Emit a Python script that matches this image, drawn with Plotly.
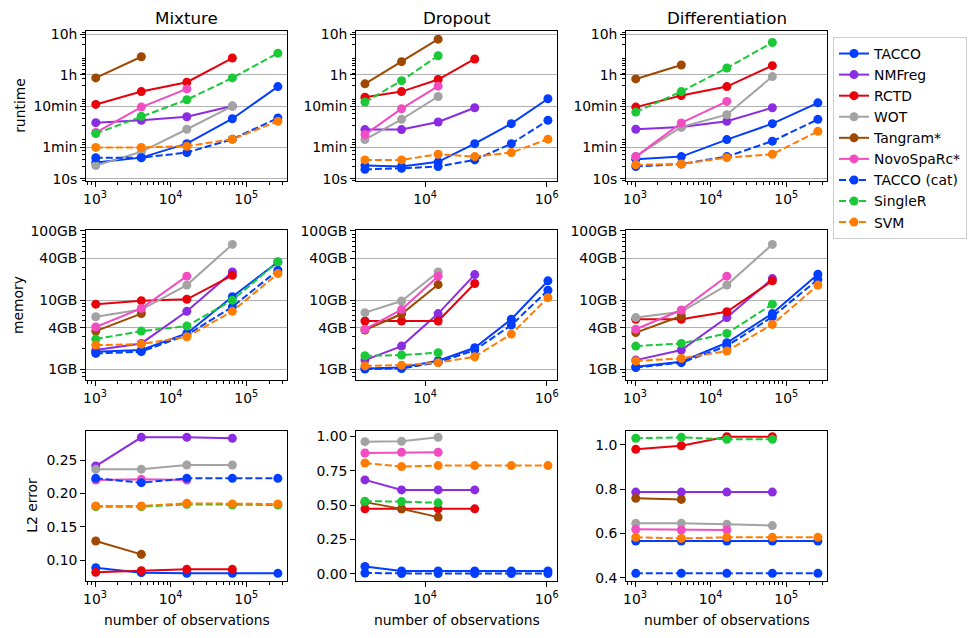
import plotly.graph_objects as go

# ---------------- data ----------------
N_SMALL = [1024, 4096, 16384, 65536, 262144]
N_DROP = [1024, 4096, 16384, 65536, 262144, 1048576]

METHODS = ["TACCO", "NMFreg", "RCTD", "WOT", "Tangram*", "NovoSpaRc*",
           "TACCO (cat)", "SingleR", "SVM"]
COLORS = ["#023eff", "#8b2be2", "#e8000b", "#a3a3a3", "#9f4800", "#f14cc1",
          "#023eff", "#1ac938", "#ff7c00"]
DASHED = ["TACCO (cat)", "SingleR", "SVM"]

DATASETS = ["Mixture", "Dropout", "Differentiation"]

# runtime in seconds
runtime_mixture = {
    "TACCO": [25, 33, 73, 300, 1860],
    "NMFreg": [240, 275, 335, 615],
    "RCTD": [675, 1400, 2380, 9400],
    "WOT": [21, 46, 165, 615],
    "Tangram*": [3040, 10100],
    "NovoSpaRc*": [137, 580, 1630],
    "TACCO (cat)": [33, 33, 44, 94, 312],
    "SingleR": [129, 343, 880, 3040, 12400],
    "SVM": [59, 59, 63, 94, 259],
}
runtime_dropout = {
    "TACCO": [21, 20, 26, 73, 227, 930],
    "NMFreg": [162, 162, 249, 560],
    "RCTD": [1020, 1400, 2770, 8900],
    "WOT": [92, 290, 1060],
    "Tangram*": [2170, 7640, 27400],
    "NovoSpaRc*": [122, 530, 1900],
    "TACCO (cat)": [17, 18, 20, 29, 73, 274],
    "SingleR": [770, 2600, 10700],
    "SVM": [29, 29, 40, 35, 44, 94],
}
runtime_differentiation = {
    "TACCO": [30, 35, 92, 227, 740],
    "NMFreg": [165, 188, 259, 560],
    "RCTD": [580, 1120, 1860, 6100],
    "WOT": [35, 188, 377, 3280],
    "Tangram*": [2870, 6320],
    "NovoSpaRc*": [35, 236, 800],
    "TACCO (cat)": [20, 23, 35, 84, 290],
    "SingleR": [438, 1400, 5340, 22700],
    "SVM": [22, 23, 33, 40, 147],
}

# memory in GB
memory_mixture = {
    "TACCO": [1.80, 1.90, 3.3, 11.2, 35.7],
    "NMFreg": [1.90, 2.37, 6.9, 25.6],
    "RCTD": [8.75, 9.8, 10.3, 22.9],
    "WOT": [5.75, 7.3, 16.5, 64],
    "Tangram*": [3.57, 6.4],
    "NovoSpaRc*": [4.1, 7.6, 22.2],
    "TACCO (cat)": [1.70, 1.80, 3.13, 8.0, 27.1],
    "SingleR": [2.74, 3.57, 4.22, 10.0, 35.7],
    "SVM": [2.24, 2.32, 2.96, 6.9, 24.2],
}
memory_dropout = {
    "TACCO": [1.03, 1.06, 1.33, 2.05, 5.3, 19.0],
    "NMFreg": [1.36, 2.17, 6.4, 23.4],
    "RCTD": [5.0, 5.0, 5.0, 17.4],
    "WOT": [6.6, 9.7, 25.6],
    "Tangram*": [3.7, 6.3, 16.8],
    "NovoSpaRc*": [3.8, 7.3, 22.2],
    "TACCO (cat)": [1.01, 1.03, 1.26, 1.90, 4.36, 13.9],
    "SingleR": [1.57, 1.61, 1.74],
    "SVM": [1.12, 1.15, 1.25, 1.52, 3.23, 10.9],
}
memory_differentiation = {
    "TACCO": [1.09, 1.29, 2.42, 6.4, 23.7],
    "NMFreg": [1.36, 1.90, 5.6, 20.5],
    "RCTD": [5.3, 5.3, 6.8, 19.0],
    "WOT": [5.6, 6.8, 16.5, 64],
    "Tangram*": [3.4, 5.9],
    "NovoSpaRc*": [3.8, 7.2, 22.2],
    "TACCO (cat)": [1.06, 1.25, 2.17, 5.75, 19.9],
    "SingleR": [2.17, 2.37, 3.3, 8.75],
    "SVM": [1.32, 1.44, 1.84, 4.46, 16.5],
}

# L2 error
error_mixture = {
    "TACCO": [0.0885, 0.081, 0.080, 0.080, 0.080],
    "NMFreg": [0.241, 0.284, 0.284, 0.2825],
    "RCTD": [0.0815, 0.084, 0.086, 0.086],
    "WOT": [0.236, 0.236, 0.2425, 0.2425],
    "Tangram*": [0.1285, 0.1085],
    "NovoSpaRc*": [0.220, 0.221, 0.220],
    "TACCO (cat)": [0.2225, 0.216, 0.2225, 0.2225, 0.2225],
    "SingleR": [0.180, 0.180, 0.1835, 0.1825, 0.1825],
    "SVM": [0.181, 0.181, 0.185, 0.184, 0.184],
}
error_dropout = {
    "TACCO": [0.053, 0.020, 0.020, 0.020, 0.020, 0.020],
    "NMFreg": [0.683, 0.610, 0.610, 0.610],
    "RCTD": [0.472, 0.472, 0.472, 0.472],
    "WOT": [0.961, 0.964, 0.993],
    "Tangram*": [0.521, 0.472, 0.412],
    "NovoSpaRc*": [0.879, 0.884, 0.884],
    "TACCO (cat)": [0.005, 0.001, 0.001, 0.001, 0.001, 0.001],
    "SingleR": [0.528, 0.525, 0.516],
    "SVM": [0.806, 0.780, 0.787, 0.787, 0.787, 0.787],
}
error_differentiation = {
    "TACCO": [0.565, 0.565, 0.565, 0.565, 0.565],
    "NMFreg": [0.786, 0.786, 0.786, 0.786],
    "RCTD": [0.979, 0.995, 1.036, 1.036],
    "WOT": [0.645, 0.645, 0.641, 0.635],
    "Tangram*": [0.758, 0.753],
    "NovoSpaRc*": [0.618, 0.615, 0.615],
    "TACCO (cat)": [0.4195, 0.4195, 0.4195, 0.4195, 0.4195],
    "SingleR": [1.029, 1.033, 1.024, 1.024],
    "SVM": [0.582, 0.577, 0.582, 0.582, 0.582],
}

RUNTIME_TICKVALS = [10, 60, 600, 3600, 36000]
RUNTIME_TICKTEXT = ["10s", "1min", "10min", "1h", "10h"]
MEMORY_TICKVALS = [1, 4, 10, 40, 100]
MEMORY_TICKTEXT = ["1GB", "4GB", "10GB", "40GB", "100GB"]
ERROR_TICKVALS = [[0.10, 0.15, 0.20, 0.25],
                  [0.00, 0.25, 0.50, 0.75, 1.00],
                  [0.4, 0.6, 0.8, 1.0]]
ERROR_TICKTEXT = [["0.10", "0.15", "0.20", "0.25"],
                  ["0.00", "0.25", "0.50", "0.75", "1.00"],
                  ["0.4", "0.6", "0.8", "1.0"]]
ROW_LABELS = ["runtime", "memory", "L2 error"]
XLABEL = "number of observations"

# ---------------- figure ----------------
W, H = 979, 638
OFF = 8  # the page body adds an 8px offset; place everything relative to it
FONT = "DejaVu Sans"
FS = 13.9

panels = [
    [runtime_mixture, runtime_dropout, runtime_differentiation],
    [memory_mixture, memory_dropout, memory_differentiation],
    [error_mixture, error_dropout, error_differentiation],
]
xs = [N_SMALL, N_DROP, N_SMALL]

col_px = [(86, 287), (356, 557), (626, 827)]
row_px = [(30.7, 181), (230, 380), (430.7, 581)]
x_ranges = [[2.881, 5.539], [2.863, 6.170], [2.881, 5.539]]
y_ranges_log = [[0.943, 4.646], [-0.154, 2.014]]
y_ranges_err = [[0.0685, 0.294], [-0.053, 1.041], [0.385, 1.063]]


def px_x(x):
    return (x - OFF) / W


def px_y(y):
    return 1 - (y - OFF) / H


def log_minor(lo_exp, hi_exp):
    vals = []
    for e in range(lo_exp, hi_exp + 1):
        for k in range(2, 10):
            vals.append(k * 10 ** e)
    return vals


fig = go.Figure()
layout = {}
shown = set()

for r in range(3):
    for c in range(3):
        idx = r * 3 + c + 1
        xa = "x" if idx == 1 else f"x{idx}"
        ya = "y" if idx == 1 else f"y{idx}"
        data = panels[r][c]
        for m, col in zip(METHODS, COLORS):
            vals = data[m]
            fig.add_trace(go.Scatter(
                x=xs[c][:len(vals)], y=vals, mode="lines+markers",
                name=m, legendgroup=m, showlegend=(m not in shown),
                line=dict(color=col, width=2,
                          dash="7px,3px" if m in DASHED else "solid"),
                marker=dict(color=col, size=9, line=dict(width=0)),
                xaxis=xa, yaxis=ya,
            ))
            shown.add(m)

        x0, x1 = col_px[c]
        y0, y1 = row_px[r]
        xkey = "xaxis" if idx == 1 else f"xaxis{idx}"
        ykey = "yaxis" if idx == 1 else f"yaxis{idx}"

        if c == 1:
            xtv = [1e4, 1e6]
            xtt = ["10<sup>4</sup>", "10<sup>6</sup>"]
            xminor = dict(ticks="")
        else:
            xtv = [1e3, 1e4, 1e5]
            xtt = ["10<sup>3</sup>", "10<sup>4</sup>", "10<sup>5</sup>"]
            xminor = dict(tickmode="array", tickvals=log_minor(2, 5),
                          ticks="outside", ticklen=2.8, tickwidth=0.8,
                          tickcolor="black", showgrid=False)
        layout[xkey] = dict(
            domain=[px_x(x0), px_x(x1)], anchor=ya, type="log", automargin=False,
            range=x_ranges[c], tickmode="array", tickvals=xtv, ticktext=xtt,
            ticks="outside", ticklen=4.9, tickwidth=1, tickcolor="black",
            showline=True, linecolor="black", linewidth=1, mirror=True,
            showgrid=False, zeroline=False, minor=xminor,
            tickfont=dict(family=FONT, size=FS, color="black"),
        )
        yd = dict(
            domain=[px_y(y1), px_y(y0)], anchor=xa, automargin=False,
            ticks="outside", ticklen=4.9, tickwidth=1, tickcolor="black",
            showline=True, linecolor="black", linewidth=1, mirror=True,
            zeroline=False, tickmode="array",
            tickfont=dict(family=FONT, size=FS, color="black"),
        )
        if r == 0:
            yd.update(type="log", range=y_ranges_log[0],
                      tickvals=RUNTIME_TICKVALS, ticktext=RUNTIME_TICKTEXT,
                      showgrid=True, gridcolor="#b0b0b0", gridwidth=0.8,
                      minor=dict(tickmode="array", tickvals=log_minor(0, 4),
                                 ticks="outside", ticklen=2.8, tickwidth=0.8,
                                 tickcolor="black", showgrid=False))
        elif r == 1:
            yd.update(type="log", range=y_ranges_log[1],
                      tickvals=MEMORY_TICKVALS, ticktext=MEMORY_TICKTEXT,
                      showgrid=True, gridcolor="#b0b0b0", gridwidth=0.8,
                      minor=dict(tickmode="array", tickvals=log_minor(-1, 2),
                                 ticks="outside", ticklen=2.8, tickwidth=0.8,
                                 tickcolor="black", showgrid=False))
        else:
            yd.update(type="linear", range=y_ranges_err[c],
                      tickvals=ERROR_TICKVALS[c], ticktext=ERROR_TICKTEXT[c],
                      showgrid=False)
        layout[ykey] = yd

annotations = []
for c, name in enumerate(DATASETS):
    cx = px_x((col_px[c][0] + col_px[c][1]) / 2)
    annotations.append(dict(text=name, x=cx, y=px_y(18), xref="paper", yref="paper",
                            xanchor="center", yanchor="middle", showarrow=False,
                            font=dict(family=FONT, size=16.7, color="black")))
    annotations.append(dict(text=XLABEL, x=cx, y=px_y(620), xref="paper", yref="paper",
                            xanchor="center", yanchor="middle", showarrow=False,
                            font=dict(family=FONT, size=FS, color="black")))
ylab_x = [20, 18, 32]
for r, lab in enumerate(ROW_LABELS):
    cy = (row_px[r][0] + row_px[r][1]) / 2
    annotations.append(dict(text=lab, x=px_x(ylab_x[r]), y=px_y(cy), xref="paper", yref="paper",
                            xanchor="center", yanchor="middle", showarrow=False, textangle=-90,
                            font=dict(family=FONT, size=FS, color="black")))

fig.update_layout(
    width=W, height=H, margin=dict(l=0, r=0, t=0, b=0, autoexpand=False),
    paper_bgcolor="white", plot_bgcolor="white",
    font=dict(family=FONT, size=FS, color="black"),
    showlegend=True,
    legend=dict(x=px_x(833), y=px_y(37), xanchor="left", yanchor="top",
                bordercolor="#cccccc", borderwidth=1, bgcolor="white",
                font=dict(family=FONT, size=FS, color="black"),
                itemwidth=30, tracegroupgap=0),
    annotations=annotations,
    **layout,
)

fig.write_html("out.html")
